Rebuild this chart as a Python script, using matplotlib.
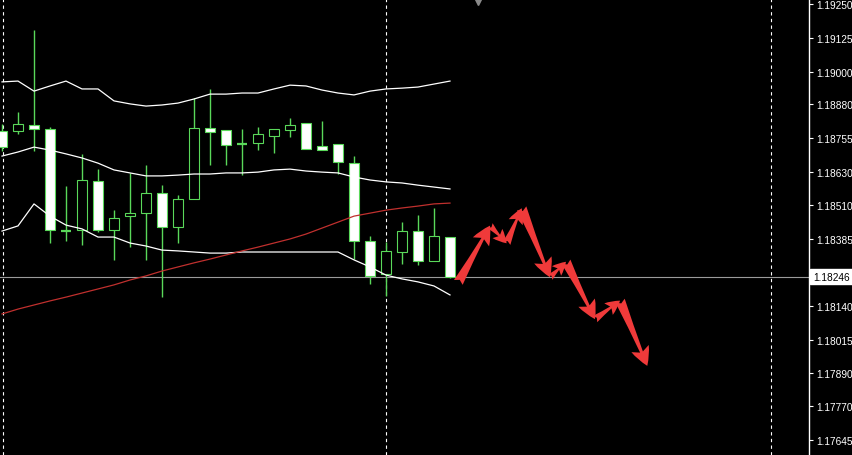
import matplotlib
matplotlib.use('Agg')
import numpy as np
import matplotlib.pyplot as plt
from matplotlib.patches import Rectangle, FancyArrowPatch

plt.rcParams['font.family'] = ['Liberation Sans', 'DejaVu Sans']

# EURUSD style H1 candles (bar index 0..28)
opens  = [1.18782, 1.18782, 1.18804, 1.18790, 1.18414, 1.18418, 1.18598, 1.18418, 1.18469, 1.18480,
          1.18554, 1.18429, 1.18532, 1.18793, 1.18786, 1.18734, 1.18738, 1.18764, 1.18786, 1.18812,
          1.18727, 1.18734, 1.18664, 1.18377, 1.18256, 1.18337, 1.18414, 1.18304, 1.18392]
highs  = [1.18808, 1.18852, 1.19154, 1.18797, 1.18580, 1.18698, 1.18642, 1.18491, 1.18628, 1.18657,
          1.18583, 1.18547, 1.18904, 1.18937, 1.18786, 1.18790, 1.18797, 1.18790, 1.18830, 1.18812,
          1.18819, 1.18734, 1.18690, 1.18396, 1.18374, 1.18447, 1.18473, 1.18499, 1.18392]
lows   = [1.18709, 1.18771, 1.18709, 1.18370, 1.18377, 1.18363, 1.18411, 1.18308, 1.18355, 1.18308,
          1.18171, 1.18370, 1.18532, 1.18657, 1.18657, 1.18620, 1.18712, 1.18701, 1.18760, 1.18716,
          1.18712, 1.18624, 1.18311, 1.18219, 1.18175, 1.18293, 1.18289, 1.18304, 1.18241]
closes = [1.18723, 1.18808, 1.18790, 1.18418, 1.18411, 1.18602, 1.18418, 1.18462, 1.18480, 1.18554,
          1.18429, 1.18532, 1.18793, 1.18779, 1.18731, 1.18733, 1.18771, 1.18790, 1.18804, 1.18716,
          1.18712, 1.18668, 1.18377, 1.18249, 1.18341, 1.18414, 1.18304, 1.18396, 1.18246]

bb_upper = [1.18963, 1.18966, 1.18929, 1.18948, 1.18966, 1.18937, 1.18937, 1.18893, 1.18882, 1.18874,
            1.18878, 1.18885, 1.18900, 1.18918, 1.18918, 1.18922, 1.18922, 1.18937, 1.18951, 1.18948,
            1.18933, 1.18922, 1.18915, 1.18929, 1.18937, 1.18940, 1.18944, 1.18955, 1.18966]
bb_mid   = [1.18690, 1.18705, 1.18723, 1.18712, 1.18698, 1.18683, 1.18664, 1.18639, 1.18628, 1.18617,
            1.18617, 1.18620, 1.18624, 1.18624, 1.18628, 1.18628, 1.18631, 1.18639, 1.18642, 1.18635,
            1.18631, 1.18628, 1.18613, 1.18602, 1.18595, 1.18591, 1.18583, 1.18576, 1.18569]
bb_lower = [1.18414, 1.18433, 1.18514, 1.18469, 1.18436, 1.18422, 1.18392, 1.18392, 1.18370, 1.18359,
            1.18344, 1.18341, 1.18337, 1.18333, 1.18333, 1.18337, 1.18337, 1.18337, 1.18337, 1.18337,
            1.18337, 1.18337, 1.18308, 1.18282, 1.18252, 1.18238, 1.18227, 1.18212, 1.18179]
ma_slow  = [1.18109, 1.18127, 1.18142, 1.18157, 1.18171, 1.18186, 1.18201, 1.18216, 1.18234, 1.18249,
            1.18267, 1.18282, 1.18297, 1.18311, 1.18326, 1.18341, 1.18355, 1.18370, 1.18385, 1.18403,
            1.18425, 1.18447, 1.18469, 1.18480, 1.18491, 1.18499, 1.18506, 1.18514, 1.18517]

# forecast path drawn with arrows (bar index, price)
path_idx = [28.52, 30.5, 31.54, 32.48, 34.25, 35.25, 37.06, 38.63, 40.33]
path_px  = [1.18225, 1.18434, 1.18369, 1.18498, 1.18244, 1.18301, 1.18090, 1.18158, 1.17918]

day_starts = [0.06, 24, 48.06]
price_ticks = [1.19250, 1.19125, 1.19000, 1.18880, 1.18755, 1.18630, 1.18510, 1.18385, 1.18260,
               1.18140, 1.18015, 1.17890, 1.17770, 1.17645]
last_price = 1.18246

green = '#5ad85a'

fig = plt.figure(figsize=(8.52, 4.56), dpi=100, facecolor='black')
ax = fig.add_axes([0, 0, 809 / 852, 1])
ax.set_facecolor('black')
ax.set_xlim(-0.125, 50.4375)
ax.set_ylim(1.17590, 1.19268)

for s in day_starts:
    ax.axvline(s, color='white', lw=0.8, dashes=(3, 3), zorder=1)
ax.axhline(last_price, color='#9a9a9a', lw=0.8, zorder=1)

for i in range(len(opens)):
    o, h, l, c = opens[i], highs[i], lows[i], closes[i]
    ax.vlines(i, l, h, color=green, lw=1.0, zorder=2)
    if abs(c - o) < 0.00004:
        ax.hlines((o + c) / 2, i - 0.3125, i + 0.3125, color=green, lw=1.6, zorder=3)
    else:
        fc = 'white' if c < o else 'black'
        ax.add_patch(Rectangle((i - 0.3125, min(o, c)), 0.625, abs(c - o),
                               facecolor=fc, edgecolor=green, lw=0.8, zorder=3))

x = list(range(len(opens)))
ax.plot(x, bb_upper, color='white', lw=0.9, zorder=4)
ax.plot(x, bb_mid, color='white', lw=0.9, zorder=4)
ax.plot(x, bb_lower, color='white', lw=0.9, zorder=4)
ax.plot(x, ma_slow, color='#c0302e', lw=0.9, zorder=4)

# hand-drawn looking arrows, smaller heads on the short legs
for k in range(len(path_idx) - 1):
    a = ax.transData.transform((path_idx[k], path_px[k]))
    b = ax.transData.transform((path_idx[k + 1], path_px[k + 1]))
    seg = np.hypot(*(b - a))
    ms = min(18, 10 + 0.12 * seg)
    arr = FancyArrowPatch((path_idx[k], path_px[k]), (path_idx[k + 1], path_px[k + 1]),
                          arrowstyle='fancy,head_length=0.75,head_width=0.75,tail_width=0.4',
                          mutation_scale=ms, color='#f03a3a', lw=0,
                          shrinkA=0, shrinkB=0, zorder=5)
    ax.add_patch(arr)

# chart shift marker
ax.plot(29.75, 1.19262, marker='v', color='#8a8a8a', ms=6, clip_on=False, zorder=6)

for side in ['left', 'top', 'bottom']:
    ax.spines[side].set_visible(False)
ax.spines['right'].set_color('white')
ax.spines['right'].set_linewidth(1.0)
ax.set_xticks([])
ax.yaxis.tick_right()
ax.set_yticks(price_ticks)
ax.set_yticklabels(['%.5f' % v for v in price_ticks])
ax.tick_params(axis='y', colors='white', direction='out', length=3, width=0.8,
               pad=2, labelsize=7.3)

ax.annotate('%.5f' % last_price, xy=(1, last_price), xycoords=('axes fraction', 'data'),
            xytext=(4, 0), textcoords='offset pixels', ha='left', va='center',
            fontsize=7.3, color='black', annotation_clip=False, zorder=10,
            bbox=dict(boxstyle='square,pad=0.25', fc='white', ec='white'))

fig.savefig('out.png', dpi=100, facecolor='black')
